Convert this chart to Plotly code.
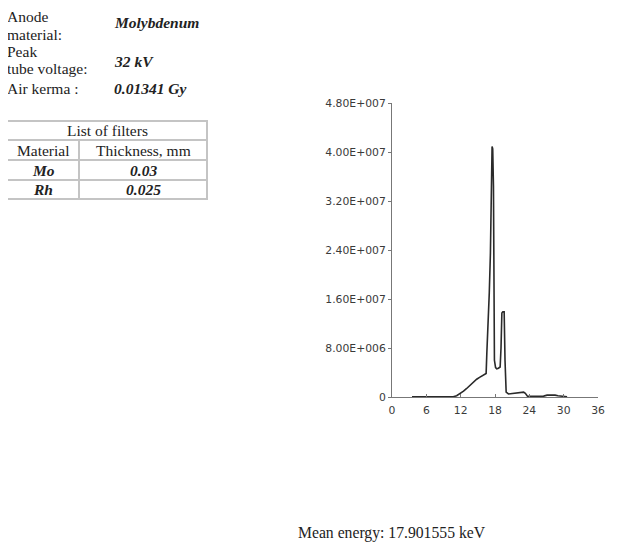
import plotly.graph_objects as go

# ---- data ----
energy_kev = [3.5, 6, 8, 10, 10.7, 11.3, 11.9, 12.5, 13.0, 13.5, 14.2, 14.8, 15.3, 15.8, 16.2, 16.45,
              16.57, 16.8, 17.0, 17.2, 17.35, 17.49, 17.6, 17.73, 17.9, 18.1, 18.3, 18.6, 18.9, 19.05,
              19.2, 19.37, 19.6, 19.75, 19.95, 20.35, 21.0, 21.6, 22.4, 23.0, 23.3, 23.7, 24.5, 25.5,
              26.5, 27.1, 27.8, 28.5, 29.0, 29.8, 30.6]
fluence = [0.05e6, 0.05e6, 0.05e6, 0.05e6, 0.05e6, 0.2e6, 0.55e6, 0.95e6, 1.35e6, 1.8e6, 2.45e6, 2.9e6,
           3.2e6, 3.45e6, 3.65e6, 3.85e6,
           7.1e6, 12e6, 17e6, 23.5e6, 32e6, 40.9e6, 40.5e6, 34.4e6, 6e6, 4.8e6, 4.6e6, 4.7e6, 4.9e6, 8e6,
           13.7e6, 13.9e6, 13.9e6, 6e6, 0.8e6, 0.5e6, 0.6e6, 0.7e6, 0.8e6, 0.8e6, 0.6e6, 0.1e6, 0.1e6, 0.1e6,
           0.15e6, 0.3e6, 0.35e6, 0.3e6, 0.2e6, 0.15e6, 0.05e6]

x_tickvals = [0, 6, 12, 18, 24, 30, 36]
y_tickvals = [0, 8e6, 1.6e7, 2.4e7, 3.2e7, 4.0e7, 4.8e7]
y_ticktext = ["0", "8.00E+006", "1.60E+007", "2.40E+007", "3.20E+007", "4.00E+007", "4.80E+007"]

info_label_lines = [["Anode", "material:"], ["Peak", "tube voltage:"], ["Air kerma :"]]
info_values = ["Molybdenum", "32 kV", "0.01341 Gy"]
table_title = "List of filters"
table_header = ["Material", "Thickness, mm"]
filter_materials = ["Mo", "Rh"]
filter_thickness = ["0.03", "0.025"]
mean_energy_text = "Mean energy: 17.901555 keV"

# ---- layout geometry (pixels in the window; page body has an 8px margin) ----
OFF = 8
W, H = 621 - OFF, 552 - OFF
PL, PR, PT, PB = 392 - OFF, 598 - OFF, 103 - OFF, 397 - OFF


def px(x):
    return (x - OFF - PL) / (PR - PL)


def py(y):
    return (PB - (y - OFF)) / (PB - PT)


fig = go.Figure()
fig.add_trace(go.Scatter(x=energy_kev, y=fluence, mode="lines",
                         line=dict(color="#2a2a2a", width=1.6), hoverinfo="skip",
                         showlegend=False))

tickfont = dict(family="DejaVu Sans", size=10.8, color="#3a3a3a")
fig.update_xaxes(range=[0, 36], tickvals=x_tickvals, ticktext=[str(v) for v in x_tickvals],
                 showgrid=False, zeroline=False, showline=True, linecolor="#777777", linewidth=1,
                 ticks="inside", ticklen=3, tickcolor="#777777", tickfont=tickfont,
                 ticklabelstandoff=3)
fig.update_yaxes(range=[0, 4.8e7], tickvals=y_tickvals, ticktext=y_ticktext,
                 showgrid=False, zeroline=False, showline=True, linecolor="#777777", linewidth=1,
                 ticks="outside", ticklen=3, tickcolor="#777777", tickfont=tickfont)

serif = "Liberation Serif, Times New Roman, serif"
FS = 15.5
TXT = "#222222"
ann = []
shapes = []

# info block
label_line_y = [[17, 34.5], [51, 68.5], [88]]
value_y = [23, 61, 88]
for lines, ys in zip(info_label_lines, label_line_y):
    for t, yy in zip(lines, ys):
        ann.append(dict(x=px(6), y=py(yy), xref="paper", yref="paper", text=t, showarrow=False,
                        xanchor="left", yanchor="middle", align="left", borderpad=0,
                        font=dict(family=serif, size=FS, color=TXT)))
for val, yy in zip(info_values, value_y):
    ann.append(dict(x=px(112), y=py(yy), xref="paper", yref="paper",
                    text="<b><i>%s</i></b>" % val, showarrow=False,
                    xanchor="left", yanchor="middle",
                    font=dict(family=serif, size=FS, color=TXT)))

# filter table
tl, tr, tt, tb = 7, 207, 121, 199
rows = [121, 140, 160, 180, 199]
colx = 79
lc = dict(color="#c4c4c4", width=2)
shapes.append(dict(type="rect", xref="paper", yref="paper", x0=px(tl), x1=px(tr),
                   y0=py(tt), y1=py(tb), line=lc))
for r in rows[1:-1]:
    shapes.append(dict(type="line", xref="paper", yref="paper", x0=px(tl), x1=px(tr),
                       y0=py(r), y1=py(r), line=lc))
shapes.append(dict(type="line", xref="paper", yref="paper", x0=px(colx), x1=px(colx),
                   y0=py(rows[1]), y1=py(tb), line=lc))


def cell_text(text, xc, yc, style=""):
    if style == "bi":
        text = "<b><i>%s</i></b>" % text
    ann.append(dict(x=px(xc), y=py(yc), xref="paper", yref="paper", text=text, showarrow=False,
                    xanchor="center", yanchor="middle",
                    font=dict(family=serif, size=FS, color=TXT)))


c1, c2 = (tl + colx) / 2, (colx + tr) / 2
cell_text(table_title, (tl + tr) / 2, (rows[0] + rows[1]) / 2)
cell_text(table_header[0], c1, (rows[1] + rows[2]) / 2)
cell_text(table_header[1], c2, (rows[1] + rows[2]) / 2)
for i, (m, t) in enumerate(zip(filter_materials, filter_thickness)):
    yc = (rows[2 + i] + rows[3 + i]) / 2
    cell_text(m, c1, yc, "bi")
    cell_text(t, c2, yc, "bi")

ann.append(dict(x=px(296), y=py(533), xref="paper", yref="paper", text=mean_energy_text,
                showarrow=False, xanchor="left", yanchor="middle",
                font=dict(family=serif, size=15.7, color=TXT)))

fig.update_layout(width=W, height=H, margin=dict(l=PL, r=W - PR, t=PT, b=H - PB, pad=0),
                  paper_bgcolor="white", plot_bgcolor="white",
                  annotations=ann, shapes=shapes)

fig.write_html("out.html")
